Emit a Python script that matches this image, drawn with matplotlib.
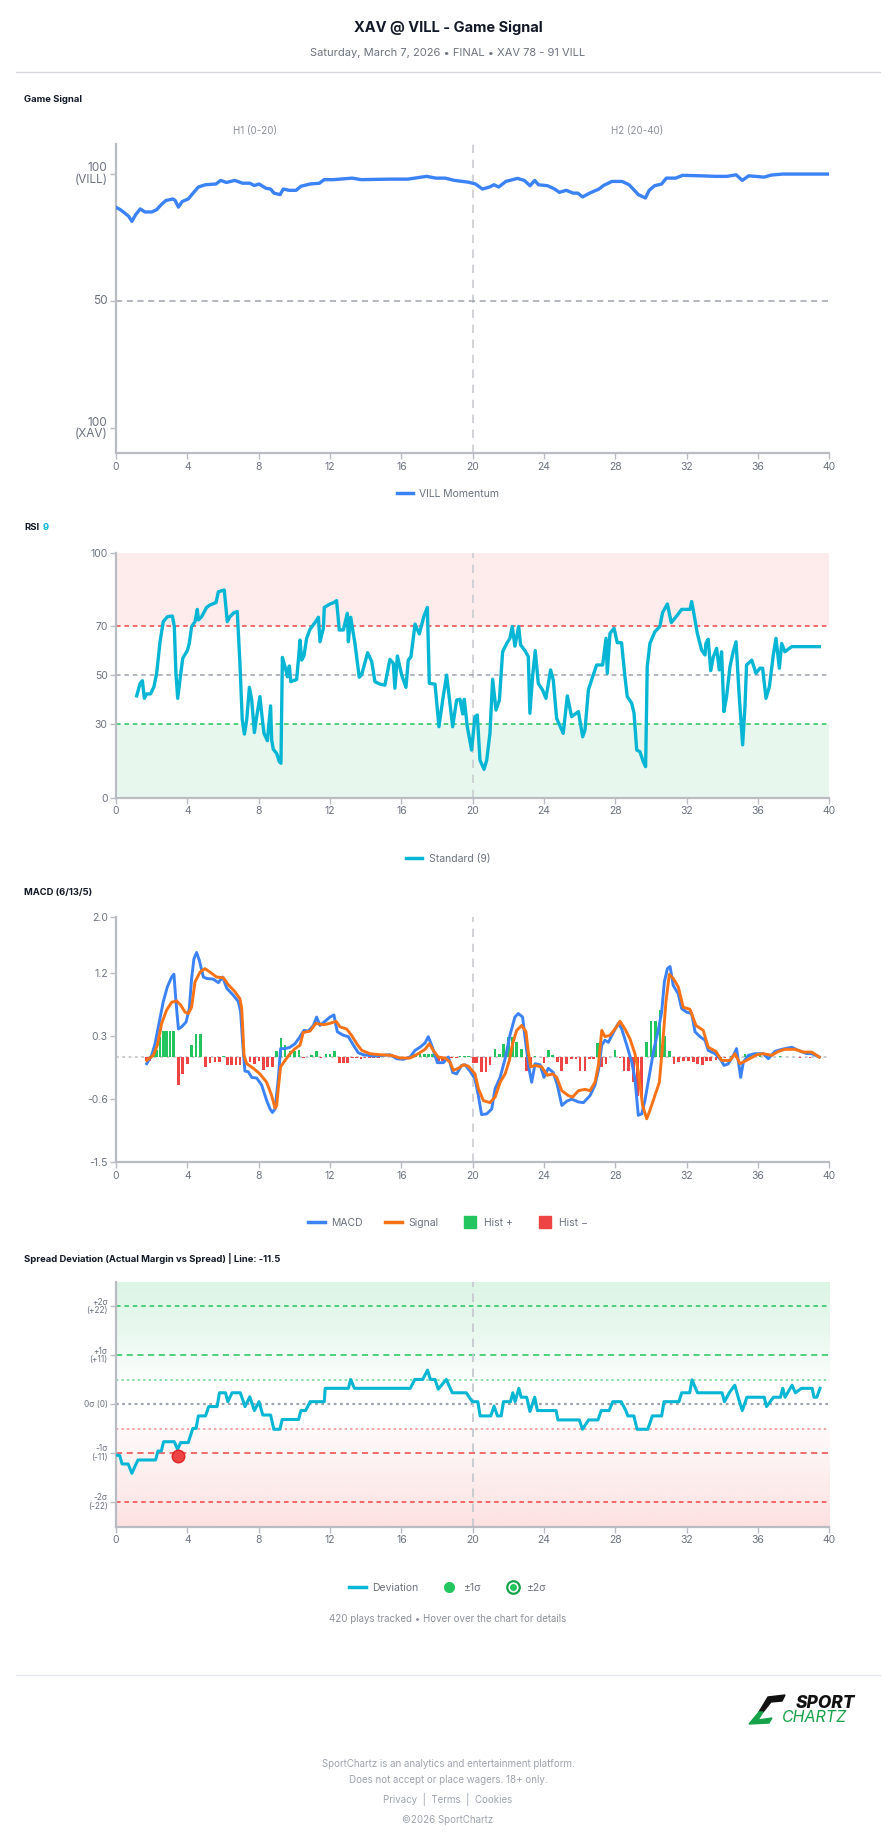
import numpy as np
import matplotlib
matplotlib.use("Agg")
import matplotlib.pyplot as plt
from matplotlib.lines import Line2D
from matplotlib.patches import Polygon
from matplotlib.legend_handler import HandlerTuple
from matplotlib.colors import LinearSegmentedColormap

plt.rcParams['font.family'] = ['Inter', 'DejaVu Sans']

# ---- data ----
game_pts = [(0, 86.9), (0.24, 86.0), (0.45, 84.9), (0.71, 83.4), (0.89, 81.4), (1.1, 84.0), (1.36, 86.3),
            (1.62, 85.1), (2.01, 85.1), (2.28, 86.0), (2.54, 88.0), (2.8, 89.6), (3.19, 90.2), (3.32, 89.6),
            (3.5, 87.0), (3.71, 89.2), (4.05, 90.2), (4.36, 92.8), (4.62, 94.9), (5.01, 95.8), (5.61, 96.1),
            (5.87, 97.5), (6.19, 96.7), (6.66, 97.5), (7.1, 96.4), (7.5, 96.4), (7.76, 95.5), (8.02, 96.1),
            (8.41, 94.4), (8.67, 94.1), (8.86, 92.5), (9.2, 91.9), (9.38, 94.1), (9.71, 93.6), (10.1, 93.6),
            (10.37, 95.2), (10.89, 96.1), (11.41, 96.4), (11.67, 97.8), (12.2, 97.8), (13.24, 98.4),
            (13.76, 97.8), (15.33, 98.0), (16.37, 98.0), (17.42, 99.1), (17.94, 98.4), (18.46, 98.4),
            (18.98, 97.5), (19.77, 96.8), (20.16, 96.1), (20.55, 94.1), (20.94, 94.9), (21.2, 95.8),
            (21.46, 94.9), (21.86, 97.1), (22.51, 98.3), (22.9, 97.5), (23.22, 95.4), (23.48, 97.5),
            (23.69, 95.8), (24.21, 95.4), (24.6, 94.1), (24.86, 92.8), (25.25, 93.6), (25.64, 92.5),
            (25.9, 92.5), (26.16, 91.0), (26.56, 92.5), (27.08, 94.1), (27.34, 95.5), (27.81, 97.1),
            (28.38, 97.1), (28.77, 95.8), (29.03, 93.9), (29.29, 91.9), (29.69, 90.6), (29.9, 93.6),
            (30.2, 95.4), (30.6, 96.1), (30.86, 98.4), (31.38, 98.4), (31.78, 99.5), (32.82, 99.3),
            (33.6, 99.1), (34.25, 99.1), (34.78, 99.7), (35.12, 97.5), (35.48, 99.3), (36.35, 98.8),
            (36.74, 99.6), (37.39, 100), (40, 100)]

rsi_pts = [(1.16, 41.6), (1.35, 46.7), (1.48, 47.8), (1.59, 40.6), (1.72, 42.4), (1.94, 42.4), (2.13, 45.4),
           (2.28, 50.8), (2.47, 63.7), (2.65, 71.9), (2.88, 73.9), (3.16, 74.2), (3.27, 69.9), (3.36, 50.8),
           (3.46, 40.6), (3.59, 48.1), (3.74, 56.9), (4.0, 60.1), (4.11, 63.0), (4.24, 69.9), (4.43, 71.9),
           (4.56, 76.9), (4.62, 72.6), (4.8, 73.9), (5.08, 77.7), (5.27, 78.7), (5.61, 79.7), (5.74, 84.1),
           (6.07, 84.8), (6.24, 71.9), (6.39, 73.9), (6.62, 75.6), (6.8, 76.0), (6.95, 54.9), (7.08, 31.8),
           (7.2, 26.0), (7.33, 31.8), (7.48, 45.1), (7.61, 39.9), (7.76, 26.6), (7.89, 33.1), (8.07, 41.3),
           (8.21, 31.8), (8.3, 26.3), (8.49, 23.3), (8.6, 31.8), (8.67, 37.5), (8.73, 23.6), (8.82, 19.8),
           (9.01, 18.1), (9.16, 14.7), (9.25, 14.1), (9.33, 57.3), (9.48, 53.5), (9.61, 49.4), (9.72, 53.8),
           (9.8, 47.4), (10.13, 48.3), (10.24, 57.3), (10.32, 64.4), (10.41, 56.2), (10.54, 57.9),
           (10.69, 65.1), (10.88, 68.8), (11.16, 71.5), (11.35, 73.7), (11.44, 63.7), (11.63, 69.2),
           (11.68, 77.7), (12.0, 79.1), (12.22, 79.7), (12.37, 80.5), (12.52, 68.5), (12.75, 68.5),
           (12.97, 75.3), (13.03, 63.7), (13.16, 73.7), (13.4, 63.0), (13.64, 49.2), (13.77, 50.1),
           (14.11, 59.2), (14.34, 55.6), (14.52, 47.4), (14.8, 46.4), (15.08, 46.0), (15.36, 56.5),
           (15.55, 54.9), (15.64, 44.7), (15.78, 57.9), (16.02, 50.1), (16.26, 45.1), (16.39, 56.2),
           (16.54, 57.6), (16.77, 70.9), (17.01, 66.9), (17.27, 74.2), (17.46, 77.7), (17.57, 46.7),
           (17.89, 46.4), (18.11, 29.0), (18.32, 39.9), (18.54, 50.1), (18.88, 29.0), (19.1, 39.9),
           (19.29, 40.2), (19.44, 34.2), (19.53, 40.2), (19.7, 29.0), (19.94, 19.5), (20.13, 33.1),
           (20.26, 33.8), (20.41, 15.4), (20.64, 11.6), (20.79, 15.4), (20.97, 26.3), (21.12, 48.4),
           (21.31, 35.8), (21.5, 39.9), (21.68, 59.6), (21.91, 63.0), (22.09, 65.1), (22.22, 69.9),
           (22.37, 61.9), (22.58, 69.9), (22.69, 62.4), (22.93, 60.1), (23.12, 57.6), (23.21, 34.5),
           (23.36, 49.4), (23.51, 60.1), (23.68, 46.7), (23.92, 44.0), (24.11, 40.6), (24.37, 52.2),
           (24.52, 48.1), (24.71, 32.4), (25.08, 26.3), (25.31, 41.6), (25.55, 33.1), (25.93, 35.2),
           (26.17, 24.9), (26.3, 27.7), (26.49, 44.0), (26.73, 49.4), (26.95, 54.2), (27.29, 54.2),
           (27.48, 65.1), (27.55, 50.8), (27.7, 67.1), (27.93, 69.2), (28.11, 63.3), (28.35, 63.3),
           (28.54, 49.4), (28.67, 41.3), (28.92, 38.6), (29.05, 34.5), (29.2, 19.5), (29.38, 18.8),
           (29.57, 14.7), (29.7, 12.7), (29.79, 53.5), (29.94, 63.0), (30.22, 67.8), (30.5, 69.9),
           (30.65, 75.6), (30.92, 79.1), (31.14, 71.5), (31.44, 74.2), (31.72, 76.9), (32.19, 76.9),
           (32.28, 80.1), (32.37, 76.7), (32.6, 67.1), (32.84, 60.3), (33.03, 58.3), (33.08, 63.0),
           (33.21, 64.7), (33.35, 51.9), (33.5, 57.6), (33.68, 61.0), (33.83, 52.2), (33.96, 59.6),
           (34.09, 35.2), (34.24, 41.3), (34.43, 53.5), (34.61, 59.6), (34.77, 63.7), (34.95, 41.3),
           (35.14, 21.6), (35.27, 37.2), (35.36, 54.2), (35.65, 56.2), (35.89, 50.8), (36.11, 52.9),
           (36.26, 52.9), (36.45, 40.6), (36.64, 45.3), (36.86, 58.3), (37.01, 65.1), (37.2, 52.9),
           (37.33, 63.0), (37.51, 59.6), (37.89, 61.7), (39.44, 61.7)]

macd_pts = [(1.72, -0.095), (2.0, 0.024), (2.19, 0.19), (2.43, 0.5), (2.65, 0.79), (2.88, 1.0), (3.12, 1.14),
            (3.25, 1.18), (3.35, 0.83), (3.5, 0.40), (3.68, 0.43), (3.93, 0.5), (4.11, 0.69), (4.24, 1.12),
            (4.37, 1.4), (4.52, 1.49), (4.67, 1.38), (4.9, 1.14), (5.08, 1.12), (5.46, 1.11), (5.74, 1.06),
            (5.98, 1.14), (6.21, 0.98), (6.58, 0.88), (6.86, 0.79), (6.99, 0.64), (7.1, 0.21), (7.23, -0.2),
            (7.42, -0.21), (7.61, -0.29), (7.89, -0.3), (8.17, -0.4), (8.45, -0.62), (8.64, -0.74),
            (8.77, -0.79), (8.92, -0.74), (9.1, -0.31), (9.23, 0.12), (9.48, 0.12), (9.76, 0.14),
            (10.04, 0.19), (10.32, 0.29), (10.54, 0.38), (10.79, 0.37), (11.07, 0.45), (11.25, 0.57),
            (11.44, 0.45), (11.72, 0.51), (12.0, 0.57), (12.22, 0.6), (12.41, 0.36), (12.75, 0.31),
            (13.03, 0.29), (13.31, 0.17), (13.59, 0.06), (13.87, 0.033), (14.43, 0.014), (14.99, 0.024),
            (15.36, 0.033), (15.74, -0.024), (16.11, -0.033), (16.49, 0.0), (16.77, 0.095), (17.05, 0.14),
            (17.33, 0.2), (17.51, 0.29), (17.7, 0.17), (17.89, 0.024), (18.02, -0.08), (18.36, -0.08),
            (18.64, 0.0), (18.88, -0.22), (19.1, -0.24), (19.38, -0.12), (19.57, -0.11), (19.85, -0.2),
            (20.13, -0.31), (20.32, -0.55), (20.5, -0.82), (20.79, -0.81), (21.07, -0.74), (21.26, -0.45),
            (21.54, -0.29), (21.82, -0.024), (22.09, 0.31), (22.37, 0.57), (22.56, 0.62), (22.8, 0.57),
            (22.99, 0.17), (23.18, -0.19), (23.31, -0.36), (23.5, -0.095), (23.78, -0.11), (24.0, -0.29),
            (24.24, -0.16), (24.52, -0.22), (24.75, -0.4), (25.0, -0.69), (25.27, -0.63), (25.55, -0.6),
            (25.93, -0.64), (26.21, -0.65), (26.58, -0.55), (26.86, -0.4), (27.05, -0.19), (27.24, 0.17),
            (27.42, 0.24), (27.61, 0.21), (27.89, 0.35), (28.17, 0.48), (28.36, 0.4), (28.64, 0.17),
            (28.92, -0.071), (29.1, -0.31), (29.29, -0.83), (29.48, -0.81), (29.66, -0.62), (29.94, -0.21),
            (30.17, 0.12), (30.41, 0.38), (30.6, 0.64), (30.75, 1.07), (30.92, 1.26), (31.07, 1.29),
            (31.25, 1.02), (31.53, 0.9), (31.72, 0.69), (32.0, 0.64), (32.28, 0.62), (32.47, 0.36),
            (32.75, 0.29), (33.03, 0.24), (33.21, 0.095), (33.59, 0.048), (33.87, -0.024), (34.1, -0.12),
            (34.34, -0.095), (34.62, 0.024), (34.8, 0.12), (35.03, -0.29), (35.18, -0.071), (35.46, 0.024),
            (35.83, 0.048), (36.3, 0.048), (36.58, -0.024), (36.95, 0.081), (37.33, 0.11), (37.89, 0.14),
            (38.26, 0.095), (38.73, 0.048), (39.01, 0.048), (39.44, 0.0)]

signal_pts = [(1.72, -0.048), (2.09, 0.024), (2.32, 0.17), (2.56, 0.48), (2.84, 0.67), (3.12, 0.78),
              (3.4, 0.8), (3.63, 0.74), (3.87, 0.64), (4.06, 0.62), (4.24, 0.71), (4.43, 1.07), (4.71, 1.21),
              (4.99, 1.26), (5.27, 1.21), (5.64, 1.14), (6.02, 1.13), (6.3, 1.03), (6.67, 0.93), (6.95, 0.83),
              (7.05, 0.69), (7.18, 0.024), (7.33, -0.095), (7.7, -0.16), (8.07, -0.24), (8.45, -0.36),
              (8.73, -0.55), (8.92, -0.73), (9.01, -0.69), (9.1, -0.45), (9.23, -0.14), (9.48, -0.048),
              (9.76, 0.048), (10.04, 0.12), (10.32, 0.17), (10.5, 0.35), (10.88, 0.37), (11.21, 0.48),
              (11.63, 0.46), (12.0, 0.48), (12.34, 0.51), (12.56, 0.43), (12.93, 0.4), (13.21, 0.31),
              (13.5, 0.19), (13.78, 0.095), (14.24, 0.048), (14.8, 0.033), (15.46, 0.024), (15.93, -0.014),
              (16.49, -0.014), (16.95, 0.048), (17.33, 0.11), (17.57, 0.19), (17.79, 0.095), (18.07, 0.0),
              (18.45, -0.014), (18.73, -0.071), (18.92, -0.19), (19.2, -0.16), (19.49, -0.11), (19.76, -0.13),
              (20.13, -0.24), (20.32, -0.45), (20.6, -0.62), (20.97, -0.65), (21.26, -0.57), (21.54, -0.36),
              (21.82, -0.24), (22.06, -0.048), (22.24, 0.19), (22.47, 0.38), (22.75, 0.45), (22.99, 0.36),
              (23.12, 0.071), (23.25, -0.14), (23.5, -0.12), (23.87, -0.14), (24.19, -0.26), (24.49, -0.24),
              (24.71, -0.29), (25.0, -0.48), (25.37, -0.55), (25.61, -0.57), (25.93, -0.48), (26.3, -0.46),
              (26.58, -0.48), (26.86, -0.36), (27.05, -0.12), (27.24, 0.38), (27.42, 0.29), (27.7, 0.31),
              (28.07, 0.43), (28.26, 0.51), (28.54, 0.4), (28.82, 0.26), (29.1, 0.048), (29.29, -0.21),
              (29.53, -0.69), (29.76, -0.88), (29.94, -0.76), (30.22, -0.55), (30.47, -0.36), (30.65, 0.17),
              (30.84, 0.79), (31.03, 1.18), (31.25, 1.12), (31.53, 1.0), (31.81, 0.71), (32.19, 0.68),
              (32.52, 0.45), (32.93, 0.38), (33.21, 0.14), (33.64, 0.081), (33.96, -0.048), (34.43, -0.048),
              (34.71, 0.048), (34.99, -0.095), (35.36, -0.048), (35.93, 0.033), (36.3, 0.048), (36.77, 0.024),
              (37.15, 0.081), (37.51, 0.11), (38.08, 0.11), (38.54, 0.071), (39.01, 0.071), (39.44, 0.0)]

hist_pts = [(1.72, -0.05), (1.91, -0.05), (2.09, 0.03), (2.28, 0.1), (2.47, 0.29), (2.65, 0.37), (2.84, 0.37),
            (3.03, 0.37), (3.21, 0.37), (3.5, -0.4), (3.74, -0.24), (4.0, -0.1), (4.24, 0.17), (4.49, 0.33),
            (4.75, 0.33), (5.03, -0.14), (5.27, -0.08), (5.55, -0.07), (5.79, -0.07), (6.02, 0.01),
            (6.24, -0.11), (6.49, -0.11), (6.73, -0.11), (6.95, -0.12), (7.23, -0.05), (7.51, -0.07),
            (7.76, -0.1), (8.02, -0.06), (8.26, -0.18), (8.5, -0.14), (8.77, -0.14), (9.01, 0.08),
            (9.25, 0.27), (9.48, 0.17), (9.76, 0.08), (10.0, 0.08), (10.26, 0.1), (10.5, -0.01),
            (10.97, 0.03), (11.25, 0.08), (11.5, -0.02), (11.78, 0.05), (12.0, 0.05), (12.24, 0.08),
            (12.52, -0.08), (12.75, -0.08), (12.99, -0.08), (13.27, -0.02), (13.5, -0.02), (13.74, -0.03),
            (13.96, -0.02), (14.21, -0.02), (14.43, -0.02), (14.71, -0.01), (14.99, 0.005), (15.36, 0.005),
            (15.74, -0.005), (16.11, -0.005), (16.58, 0.03), (16.82, 0.05), (17.05, 0.05), (17.29, 0.05),
            (17.51, 0.05), (17.76, 0.05), (18.07, -0.05), (18.32, -0.05), (18.58, -0.03), (18.82, -0.02),
            (19.1, -0.02), (19.29, 0.02), (19.53, 0.02), (19.76, 0.01), (20.04, -0.08), (20.22, -0.08),
            (20.5, -0.21), (20.75, -0.21), (20.97, -0.11), (21.26, 0.11), (21.5, 0.04), (21.72, 0.19),
            (22.0, 0.29), (22.24, 0.29), (22.47, 0.21), (22.75, 0.12), (23.03, -0.2), (23.25, -0.12),
            (23.5, 0.02), (24.0, -0.08), (24.24, 0.1), (24.49, 0.03), (24.75, -0.07), (25.0, -0.2),
            (25.27, -0.1), (25.55, -0.03), (25.79, -0.03), (26.02, -0.2), (26.3, -0.2), (26.54, -0.03),
            (26.78, -0.03), (27.0, 0.2), (27.24, -0.14), (27.48, -0.1), (27.98, 0.1), (28.26, -0.02),
            (28.49, -0.2), (28.73, -0.2), (29.01, -0.35), (29.25, -0.55), (29.48, -0.55), (29.76, 0.22),
            (30.0, 0.52), (30.24, 0.52), (30.5, 0.67), (30.75, 0.3), (31.03, 0.09), (31.29, -0.1),
            (31.53, -0.07), (31.81, -0.05), (32.09, -0.05), (32.37, -0.07), (32.62, -0.1), (32.88, -0.12),
            (33.12, -0.05), (33.35, -0.05), (33.64, -0.04), (33.9, -0.02), (34.15, -0.02), (34.52, 0.02),
            (34.8, -0.02), (35.27, 0.04), (35.55, 0.04), (35.83, 0.04), (36.11, 0.03), (36.39, 0.02),
            (36.67, -0.01), (37.23, 0.01), (37.79, 0.005), (38.36, -0.01), (38.92, -0.01), (39.38, -0.005)]

dev_pts = [(0.0, -11.4), (0.21, -11.5), (0.34, -13.4), (0.68, -13.4), (0.89, -15.5), (1.1, -13.6),
           (1.23, -12.5), (2.22, -12.5), (2.35, -10.5), (2.54, -10.5), (2.67, -8.4), (3.27, -8.4),
           (3.45, -10.1), (3.63, -8.6), (4.05, -8.6), (4.31, -5.4), (4.49, -5.4), (4.62, -2.6), (5.02, -2.6),
           (5.2, -0.5), (5.67, -0.5), (5.8, 2.6), (6.14, 2.6), (6.27, 0.6), (6.51, 2.6), (6.97, 2.6),
           (7.24, -0.5), (7.5, 1.7), (7.76, -1.4), (8.02, 0.6), (8.23, -2.4), (8.67, -2.4), (8.85, -5.6),
           (9.19, -5.6), (9.32, -3.4), (10.24, -3.4), (10.37, -1.4), (10.63, -1.4), (10.89, 0.6),
           (11.68, 0.6), (11.73, 3.6), (13.03, 3.6), (13.16, 5.6), (13.37, 3.6), (16.5, 3.6), (16.76, 5.6),
           (17.2, 5.6), (17.47, 7.7), (17.63, 5.6), (17.89, 5.6), (18.07, 3.4), (18.52, 5.6), (18.86, 2.6),
           (19.64, 2.6), (19.98, 0.6), (20.29, 0.6), (20.42, -2.6), (21.02, -2.6), (21.2, -0.4),
           (21.39, -2.6), (21.6, -2.6), (21.73, 0.6), (22.12, 0.6), (22.25, 2.6), (22.38, 0.6), (22.59, 3.6),
           (22.72, 1.6), (23.03, 1.6), (23.21, -1.6), (23.48, 1.6), (23.63, -1.4), (24.68, -1.4),
           (24.78, -3.5), (25.98, -3.5), (26.16, -5.6), (26.5, -3.5), (27.03, -3.5), (27.21, -1.4),
           (27.65, -1.4), (27.86, 0.6), (28.33, 0.6), (28.59, -1.4), (28.7, -2.6), (29.04, -2.6),
           (29.22, -5.6), (29.82, -5.6), (30.08, -2.6), (30.6, -2.6), (30.73, 0.6), (31.57, 0.6),
           (31.72, 2.6), (32.17, 2.6), (32.3, 5.5), (32.61, 2.6), (33.99, 2.6), (34.12, 0.6), (34.39, 2.6),
           (34.7, 4.3), (34.91, 1.3), (35.12, -1.4), (35.38, 1.6), (36.35, 1.6), (36.48, -0.5), (36.87, 1.6),
           (37.26, 1.6), (37.39, 3.6), (37.52, 1.6), (37.91, 4.3), (38.1, 2.6), (38.44, 3.6), (39.04, 3.6),
           (39.14, 1.6), (39.3, 1.6), (39.48, 3.6)]

dev_alert = (3.45, -11.5)      # red marker, crossed -1 sigma
sigma = 11
x_ticks = list(range(0, 41, 4))
game_yticks = [0, 50, 100]
game_ylabels = ['100\n(XAV)', '50', '100\n(VILL)']
rsi_yticks = [0, 30, 50, 70, 100]
macd_yticks = [-1.5, -0.6, 0.3, 1.2, 2.0]
macd_ylabels = ['-1.5', '-0.6', '0.3', '1.2', '2.0']
dev_yticks = [-22, -11, 0, 11, 22]
dev_ylabels = ['-2σ\n(-22)', '-1σ\n(-11)', '0σ (0)', '+1σ\n(+11)', '+2σ\n(+22)']

# ---- colors ----
BLUE = '#3b82f6'
ORANGE = '#f97316'
CYAN = '#06b6d4'
GREEN = '#22c55e'
RED = '#ef4444'
GRID = '#9ca3af'
AXIS = '#b9bcc2'
TICK = '#6b7280'

W, H = 896, 1845
fig = plt.figure(figsize=(W / 100, H / 100), dpi=100)
fig.patch.set_facecolor('white')


def fx(x):
    return x / W


def fy(y):
    return 1 - y / H


def make_axes(top, bottom):
    ax = fig.add_axes([fx(116), fy(bottom), (829.3 - 116) / W, (bottom - top) / H])
    ax.set_facecolor('white')
    for s in ['top', 'right']:
        ax.spines[s].set_visible(False)
    for s in ['left', 'bottom']:
        ax.spines[s].set_color(AXIS)
        ax.spines[s].set_linewidth(1.6)
    ax.tick_params(colors=AXIS, labelcolor=TICK, labelsize=7.5, length=4, width=1, pad=2)
    ax.set_xlim(0, 40)
    ax.set_xticks(x_ticks)
    ax.axvline(20, color='#c9ccd1', ls=(0, (5, 4)), lw=1.2, zorder=1)
    return ax


def legend(ax, handles, labels, y, **kw):
    ax.legend(handles, labels, loc='center', bbox_to_anchor=(0.5, fy(y)), bbox_transform=fig.transFigure,
              ncol=len(handles), frameon=False, fontsize=7.5, labelcolor=TICK, handlelength=1.6,
              handletextpad=0.6, columnspacing=2.2, **kw)


def unzip(pts):
    return [p[0] for p in pts], [p[1] for p in pts]


# ---- header ----
fig.text(0.5, fy(28), 'XAV @ VILL - Game Signal', ha='center', va='center', fontsize=10.5,
         fontweight='bold', color='#111827')
fig.text(0.5, fy(53), 'Saturday, March 7, 2026 • FINAL • XAV 78 - 91 VILL', ha='center', va='center',
         fontsize=8, color=TICK)
fig.add_artist(Line2D([fx(16), fx(880)], [fy(72), fy(72)], color='#d6d8dc', lw=1))

# ---- Game Signal ----
fig.text(fx(24), fy(100), 'Game Signal', ha='left', va='center', fontsize=6.8, fontweight='bold',
         color='#111827')
ax1 = make_axes(144.3, 453.3)
ax1.set_ylim(-9.8, 111.7)
ax1.set_yticks(game_yticks)
ax1.set_yticklabels(game_ylabels, fontsize=8.5, linespacing=0.95, va='center')
ax1.axhline(50, color=GRID, ls=(0, (4, 3)), lw=1.1, zorder=1)
gx, gy = unzip(game_pts)
ax1.plot(gx, gy, color=BLUE, lw=2.4, solid_joinstyle='round', zorder=3)
fig.text(fx(255), fy(131), 'H1 (0-20)', ha='center', va='center', fontsize=7, color='#8a8f98')
fig.text(fx(637), fy(131), 'H2 (20-40)', ha='center', va='center', fontsize=7, color='#8a8f98')
legend(ax1, [Line2D([0], [0], color=BLUE, lw=2.5)], ['VILL Momentum'], 493.7)

# ---- RSI ----
fig.text(fx(24), fy(527.5), 'RSI', ha='left', va='center', fontsize=6.8, fontweight='bold', color='#111827')
fig.text(fx(42.5), fy(527.5), '9', ha='left', va='center', fontsize=6.8, fontweight='bold', color=CYAN)
ax2 = make_axes(552.8, 797.8)
ax2.set_ylim(0, 100)
ax2.set_yticks(rsi_yticks)
ax2.axhspan(70, 100, color='#fdeceb', zorder=0, lw=0)
ax2.axhspan(0, 30, color='#e8f7ee', zorder=0, lw=0)
ax2.axhline(70, color=RED, ls=(0, (3, 2.5)), lw=1.1, zorder=1)
ax2.axhline(50, color=GRID, ls=(0, (3, 2.5)), lw=1.1, zorder=1)
ax2.axhline(30, color=GREEN, ls=(0, (3, 2.5)), lw=1.1, zorder=1)
rx, ry = unzip(rsi_pts)
ax2.plot(rx, ry, color=CYAN, lw=2.4, solid_joinstyle='round', zorder=3)
legend(ax2, [Line2D([0], [0], color=CYAN, lw=2.5)], ['Standard (9)'], 858.7)

# ---- MACD ----
fig.text(fx(24), fy(892.5), 'MACD (6/13/5)', ha='left', va='center', fontsize=6.8, fontweight='bold',
         color='#111827')
ax3 = make_axes(916.7, 1162.3)
ax3.set_ylim(-1.5, 2.0)
ax3.set_yticks(macd_yticks)
ax3.set_yticklabels(macd_ylabels)
ax3.axhline(0, color='#c4c6ca', ls=(0, (1.5, 2)), lw=1.3, zorder=1)
hx, hy = unzip(hist_pts)
ax3.bar(hx, hy, width=0.15, color=[GREEN if v >= 0 else RED for v in hy], zorder=2, lw=0)
mx, my = unzip(macd_pts)
sx, sy = unzip(signal_pts)
ax3.plot(mx, my, color=BLUE, lw=2.1, solid_joinstyle='round', zorder=3)
ax3.plot(sx, sy, color=ORANGE, lw=2.1, solid_joinstyle='round', zorder=4)
legend(ax3, [Line2D([0], [0], color=BLUE, lw=2.5), Line2D([0], [0], color=ORANGE, lw=2.5),
             Line2D([0], [0], marker='s', color=GREEN, ls='', ms=9),
             Line2D([0], [0], marker='s', color=RED, ls='', ms=9)],
       ['MACD', 'Signal', 'Hist +', 'Hist −'], 1222.7)

# ---- Spread deviation ----
fig.text(fx(24), fy(1258), 'Spread Deviation (Actual Margin vs Spread) | Line: -11.5', ha='left', va='center',
         fontsize=6.8, fontweight='bold', color='#111827')
ax4 = make_axes(1282, 1526.7)
ax4.set_ylim(-2.5 * sigma, 2.5 * sigma)
ax4.set_yticks(dev_yticks)
ax4.set_yticklabels(dev_ylabels, fontsize=6, linespacing=0.95, va='center')
green_cm = LinearSegmentedColormap.from_list('g', ['#fbfefc', '#e9f8ef', '#dcf5e5'])
red_cm = LinearSegmentedColormap.from_list('r', ['#fffafa', '#fdeeee', '#fde1e2'])
grad = np.linspace(0, 1, 200)[:, None]
ax4.imshow(grad, extent=[0, 40, 0.5 * sigma, 2.5 * sigma], cmap=green_cm, aspect='auto', origin='lower',
           zorder=0)
ax4.imshow(grad, extent=[0, 40, -0.5 * sigma, -2.5 * sigma], cmap=red_cm, aspect='auto', origin='lower',
           zorder=0)
ax4.axhline(2 * sigma, color=GREEN, ls=(0, (3, 2.5)), lw=1.1, zorder=1)
ax4.axhline(sigma, color=GREEN, ls=(0, (4, 3)), lw=1.1, zorder=1)
ax4.axhline(0.5 * sigma, color='#86e0a6', ls=(0, (1.2, 1.6)), lw=1.4, zorder=1)
ax4.axhline(0, color=GRID, ls=(0, (1.2, 1.6)), lw=1.6, zorder=1)
ax4.axhline(-0.5 * sigma, color='#f5a3a3', ls=(0, (1.2, 1.6)), lw=1.4, zorder=1)
ax4.axhline(-sigma, color=RED, ls=(0, (4, 3)), lw=1.1, zorder=1)
ax4.axhline(-2 * sigma, color=RED, ls=(0, (3, 2.5)), lw=1.1, zorder=1)
ax4.axvline(20, color='#c9ccd1', ls=(0, (5, 4)), lw=1.2, zorder=1)
dx, dy = unzip(dev_pts)
ax4.plot(dx, dy, color=CYAN, lw=2.2, solid_joinstyle='round', zorder=3)
ax4.plot([dev_alert[0]], [dev_alert[1]], marker='o', ms=9, color=RED, mec='#dc2626', mew=1, zorder=5)
ax4.set_xlim(0, 40)
ring = (Line2D([0], [0], marker='o', ls='', ms=9, mfc='white', mec='#16a34a', mew=1.6),
        Line2D([0], [0], marker='o', ls='', ms=4, color=GREEN))
legend(ax4, [Line2D([0], [0], color=CYAN, lw=2.5), Line2D([0], [0], marker='o', color=GREEN, ls='', ms=7), ring],
       ['Deviation', '±1σ', '±2σ'], 1588, handler_map={tuple: HandlerTuple(ndivide=1, pad=0)})

fig.text(0.5, fy(1619), '420 plays tracked • Hover over the chart for details', ha='center', va='center',
         fontsize=7, color='#8a8f98')

# ---- footer ----
fig.add_artist(Line2D([fx(16), fx(880)], [fy(1675), fy(1675)], color='#e5e7eb', lw=1))
fig.add_artist(Polygon([(fx(768), fy(1697)), (fx(785), fy(1695)), (fx(782), fy(1701)), (fx(771), fy(1702)),
                        (fx(763), fy(1712)), (fx(759), fy(1712))], closed=True, color='#111111',
                       transform=fig.transFigure))
fig.add_artist(Polygon([(fx(759), fy(1712)), (fx(763), fy(1712)), (fx(758), fy(1720)), (fx(772), fy(1718)),
                        (fx(769), fy(1723)), (fx(749), fy(1724))], closed=True, color='#16a34a',
                       transform=fig.transFigure))
fig.text(fx(826), fy(1703), 'SPORT', ha='center', va='center', fontsize=12.5, fontweight='heavy',
         fontstyle='italic', color='#111111')
fig.text(fx(814), fy(1717), 'CHARTZ', ha='center', va='center', fontsize=11.5, fontstyle='italic',
         color='#16a34a')

foot = '#9ca3af'
fig.text(0.5, fy(1764), 'SportChartz is an analytics and entertainment platform.', ha='center', va='center',
         fontsize=7, color=foot)
fig.text(0.5, fy(1780), 'Does not accept or place wagers. 18+ only.', ha='center', va='center',
         fontsize=7, color=foot)
fig.text(0.5, fy(1800), 'Privacy  |  Terms  |  Cookies', ha='center', va='center', fontsize=7, color=foot)
fig.text(0.5, fy(1820), '©2026 SportChartz', ha='center', va='center', fontsize=7, color=foot)

fig.savefig('out.png', dpi=100, facecolor='white')
